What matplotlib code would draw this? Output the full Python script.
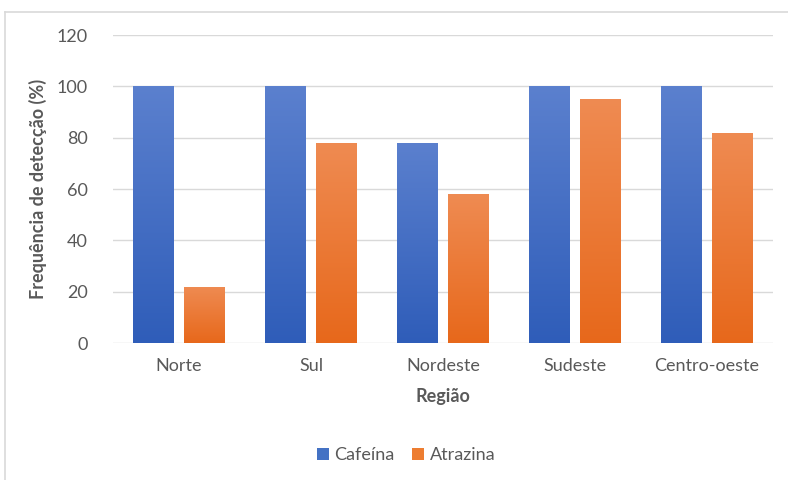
import numpy as np
import matplotlib
matplotlib.use("Agg")
import matplotlib.pyplot as plt
from matplotlib.colors import LinearSegmentedColormap
from matplotlib.patches import Patch
from matplotlib.lines import Line2D

regions = ["Norte", "Sul", "Nordeste", "Sudeste", "Centro-oeste"]
cafeina = [100, 100, 78, 100, 100]
atrazina = [22, 78, 58, 95, 82]
series_names = ["Cafeína", "Atrazina"]
y_ticks = [0, 20, 40, 60, 80, 100, 120]

plt.rcParams["font.family"] = ["Lato", "DejaVu Sans"]
text_color = "#595959"
fs = 13

fig = plt.figure(figsize=(7.88, 4.8), dpi=100)
ax = fig.add_axes([113 / 788, 137 / 480, 660 / 788, 308 / 480])

x = np.arange(len(regions))
width = 0.31
gap = 0.078
offset = (width + gap) / 2

blue_map = LinearSegmentedColormap.from_list("blue", ["#2F5DB9", "#5B80CE"])
orange_map = LinearSegmentedColormap.from_list("orange", ["#E7681B", "#EF8B52"])

def gradient_bars(xpos, values, cmap, base_color):
    bars = ax.bar(xpos, values, width, color=base_color, zorder=2)
    grad = np.linspace(0, 1, 256).reshape(-1, 1)
    for b in bars:
        x0, y0 = b.get_x(), b.get_y()
        w, h = b.get_width(), b.get_height()
        im = ax.imshow(grad, cmap=cmap, origin="lower", aspect="auto",
                       extent=[x0, x0 + w, y0, y0 + h], zorder=3,
                       interpolation="bilinear")
        im.set_clip_path(b)
    return bars

gradient_bars(x - offset, cafeina, blue_map, "#4472C4")
gradient_bars(x + offset, atrazina, orange_map, "#ED7D31")

ax.set_xlim(-0.5, len(regions) - 0.5)
ax.set_ylim(0, 120)
ax.set_yticks(y_ticks)
ax.set_xticks(x)
ax.set_xticklabels(regions)
ax.tick_params(axis="both", length=0, labelsize=fs, colors=text_color)
ax.tick_params(axis="x", pad=11)
ax.tick_params(axis="y", pad=18)
ax.yaxis.grid(True, color="#D9D9D9", linewidth=1.0, zorder=0)
ax.set_axisbelow(True)
for s in ax.spines.values():
    s.set_visible(False)

ax.set_xlabel("Região", fontsize=fs, fontweight="bold", color=text_color, labelpad=10)
ax.set_ylabel("Frequência de detecção (%)", fontsize=fs, fontweight="bold",
              color=text_color)
ax.yaxis.set_label_coords(-(113 - 47) / 660, 0.5)

handles = [Patch(facecolor="#4472C4"), Patch(facecolor="#ED7D31")]
fig.legend(handles, series_names, loc="center", bbox_to_anchor=(406 / 788, 1 - 455 / 480),
           ncol=2, frameon=False, fontsize=fs, labelcolor=text_color,
           handlelength=0.65, handleheight=0.65, handletextpad=0.3, columnspacing=1.0)

# chart area frame (top and left edges)
fig.add_artist(Line2D([5 / 788, 1], [1 - 12 / 480, 1 - 12 / 480],
                      transform=fig.transFigure, color="#D9D9D9", linewidth=1.2))
fig.add_artist(Line2D([5 / 788, 5 / 788], [0, 1 - 12 / 480],
                      transform=fig.transFigure, color="#D9D9D9", linewidth=1.2))

fig.savefig("out.png", dpi=100)
